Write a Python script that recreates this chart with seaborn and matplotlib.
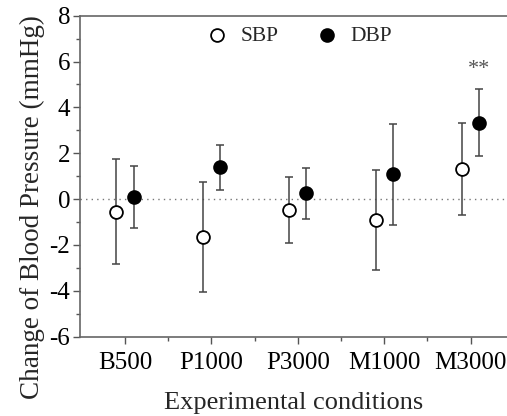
import matplotlib
matplotlib.use("Agg")
import matplotlib.pyplot as plt
import seaborn as sns
import numpy as np
import pandas as pd
from matplotlib.ticker import MultipleLocator, FixedLocator

conditions = ["B500", "P1000", "P3000", "M1000", "M3000"]
sbp_mean = [-0.54, -1.67, -0.48, -0.90, 1.32]
sbp_err = [2.31, 2.40, 1.45, 2.19, 2.00]
dbp_mean = [0.09, 1.38, 0.25, 1.08, 3.34]
dbp_err = [1.37, 0.97, 1.10, 2.21, 1.45]
sig_label = "**"
sig_index = 4
sig_y = 5.65

sns.set_style("ticks")
plt.rcParams['font.family'] = ['Liberation Serif', 'DejaVu Serif']
plt.rcParams['axes.unicode_minus'] = False

fig = plt.figure(figsize=(5.07, 4.16), dpi=100)
ax = fig.add_axes([80/507, 1 - 336.7/416, 1 - 80/507, (336.7 - 15.7)/416])

pos = np.arange(1, len(conditions) + 1)
off = 0.1
err_col = "#444444"

ax.axhline(0, color="#777777", lw=1.0, ls=(0, (1, 3)), zorder=1)

ax.errorbar(pos - off, sbp_mean, yerr=sbp_err, fmt="none", ecolor=err_col,
            elinewidth=1.1, capsize=3.2, capthick=1.1, zorder=2)
ax.errorbar(pos + off, dbp_mean, yerr=dbp_err, fmt="none", ecolor=err_col,
            elinewidth=1.1, capsize=3.2, capthick=1.1, zorder=2)

df = pd.DataFrame({
    "x": np.concatenate([pos - off, pos + off]),
    "y": sbp_mean + dbp_mean,
    "series": ["SBP"] * len(conditions) + ["DBP"] * len(conditions),
})
sns.scatterplot(data=df[df.series == "SBP"], x="x", y="y", ax=ax, s=85,
                facecolor="white", edgecolor="black", linewidth=1.3,
                zorder=3, label="SBP")
sns.scatterplot(data=df[df.series == "DBP"], x="x", y="y", ax=ax, s=85,
                color="black", edgecolor="black", linewidth=1.3,
                zorder=3, label="DBP")

ax.text(pos[sig_index] + off, sig_y, sig_label, ha="center", va="center",
        fontsize=16, color="#555555")

ax.set_xlim(0.48, 5.42)
ax.set_ylim(-6, 8)
ax.xaxis.set_major_locator(FixedLocator(pos))
ax.set_xticklabels(conditions)
ax.xaxis.set_minor_locator(FixedLocator(pos[:-1] + 0.5))
ax.yaxis.set_major_locator(MultipleLocator(2))
ax.yaxis.set_minor_locator(MultipleLocator(1))

ax.tick_params(axis="both", which="major", direction="out", length=5,
               width=1.0, color="#555555", labelcolor="black")
ax.tick_params(axis="both", which="minor", direction="out", length=3,
               width=1.0, color="#555555")
ax.tick_params(axis="x", labelsize=18, pad=6)
ax.tick_params(axis="y", labelsize=18, pad=2)

for s in ["left", "bottom", "top"]:
    ax.spines[s].set_color("#666666")
    ax.spines[s].set_linewidth(1.2)
ax.spines["right"].set_visible(False)

ax.set_xlabel("Experimental conditions", fontsize=19)
ax.xaxis.set_label_coords(0.5, -(392 - 336.7) / 321, transform=ax.transAxes)
ax.set_ylabel("Change of Blood Pressure (mmHg)", fontsize=19.5)
ax.yaxis.set_label_coords(-(80 - 45) / 427, (336.7 - 207) / 321,
                          transform=ax.transAxes)

leg = ax.legend(loc="center", bbox_to_anchor=(0.513, 0.937), ncol=2,
                frameon=False, fontsize=15.5, handlelength=1.0,
                handletextpad=0.6, columnspacing=1.75, borderaxespad=0)

fig.savefig("out.png", dpi=100)
